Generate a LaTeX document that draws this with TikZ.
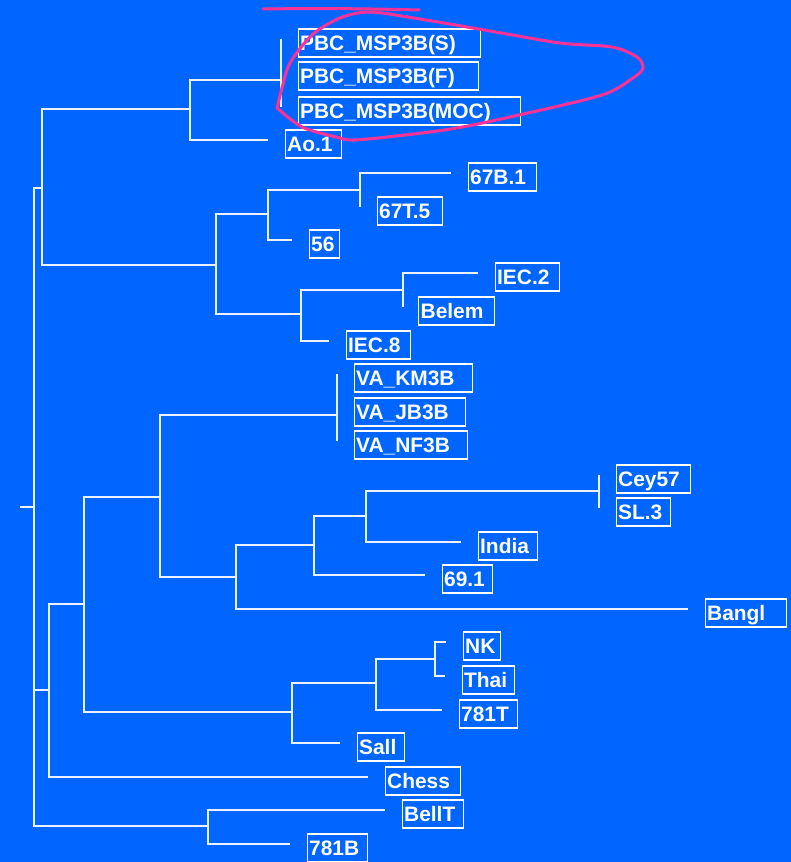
\documentclass[tikz,border=0pt]{standalone}
\usepackage{fontspec}
\setmainfont{Liberation Sans}
\usetikzlibrary{positioning}
\definecolor{treebg}{RGB}{0,102,255}
\definecolor{markpink}{RGB}{250,50,150}

\begin{document}
\begin{tikzpicture}[x=1bp,y=-1bp,
  branch/.style={draw=white!92!treebg,line width=1.2bp},
  strain/.style={draw=white,line width=1.3bp,text=white,
    font=\bfseries\fontsize{21}{24}\selectfont,
    inner xsep=2bp,inner ysep=1bp,text height=20bp,text depth=6bp,
    align=left,text width=#1}]
\fill[treebg] (0,0) rectangle (791,862);
\useasboundingbox (0,0) rectangle (791,862);

% join points and leaf ends
\coordinate (stub) at (20,507);
\coordinate (root) at (34,507);
\coordinate (a) at (42,188);
\coordinate (a1) at (190,109);
\coordinate (pbc) at (281,80);
\coordinate (lS) at (281,39);
\coordinate (lF) at (281,72);
\coordinate (lMOC) at (281,107);
\coordinate (lAo) at (268,140);
\coordinate (a2) at (216,265);
\coordinate (a21) at (268,214);
\coordinate (a211) at (360,190);
\coordinate (l67B) at (451,173);
\coordinate (l67T) at (360,207);
\coordinate (l56) at (292,240);
\coordinate (a22) at (301,314);
\coordinate (iec) at (403,290);
\coordinate (lIECb) at (478,273);
\coordinate (lBelem) at (403,307);
\coordinate (lIECh) at (329,341);
\coordinate (b) at (49,690);
\coordinate (b1) at (84,604);
\coordinate (b11) at (160,497);
\coordinate (va) at (337,415);
\coordinate (lKM) at (337,374);
\coordinate (lJB) at (337,408);
\coordinate (lNF) at (337,441);
\coordinate (b112) at (236,577);
\coordinate (b1121) at (314,545);
\coordinate (b11211) at (366,516);
\coordinate (cey) at (599,491);
\coordinate (lCey) at (599,475);
\coordinate (lSL) at (599,508);
\coordinate (lIndia) at (461,542);
\coordinate (lSixNine) at (425,575);
\coordinate (lBangl) at (688,609);
\coordinate (b12) at (292,712);
\coordinate (b121) at (376,683);
\coordinate (nk) at (435,659);
\coordinate (lNK) at (446,642);
\coordinate (lThai) at (445,676);
\coordinate (lSevT) at (442,710);
\coordinate (lSall) at (340,743);
\coordinate (lChess) at (368,777);
\coordinate (c) at (208,826);
\coordinate (lBellT) at (385,810);
\coordinate (lSevB) at (290,844);

% branches
\draw[branch] (stub) -- (root);
\draw[branch] (root) |- (a) (root) |- (b) (root) |- (c);
\draw[branch] (a) |- (a1) (a) |- (a2);
\draw[branch] (a1) |- (pbc) (a1) |- (lAo);
\draw[branch] (pbc) |- (lS) (pbc) |- (lF) (pbc) |- (lMOC);
\draw[branch] (a2) |- (a21) (a2) |- (a22);
\draw[branch] (a21) |- (a211) (a21) |- (l56);
\draw[branch] (a211) |- (l67B) (a211) |- (l67T);
\draw[branch] (a22) |- (iec) (a22) |- (lIECh);
\draw[branch] (iec) |- (lIECb) (iec) |- (lBelem);
\draw[branch] (b) |- (b1) (b) |- (lChess);
\draw[branch] (b1) |- (b11) (b1) |- (b12);
\draw[branch] (b11) |- (va) (b11) |- (b112);
\draw[branch] (va) |- (lKM) (va) |- (lJB) (va) |- (lNF);
\draw[branch] (b112) |- (b1121) (b112) |- (lBangl);
\draw[branch] (b1121) |- (b11211) (b1121) |- (lSixNine);
\draw[branch] (b11211) |- (cey) (b11211) |- (lIndia);
\draw[branch] (cey) |- (lCey) (cey) |- (lSL);
\draw[branch] (b12) |- (b121) (b12) |- (lSall);
\draw[branch] (b121) |- (nk) (b121) |- (lSevT);
\draw[branch] (nk) |- (lNK) (nk) |- (lThai);
\draw[branch] (c) |- (lBellT) (c) |- (lSevB);

% strain labels
\node[strain=178bp,right=16.5bp of lS,yshift=-4bp] (tS) {PBC\_MSP3B(S)};
\node[strain=176bp,right=16.5bp of lF,yshift=-4bp] (tF) {PBC\_MSP3B(F)};
\node[strain=218bp,right=16.5bp of lMOC,yshift=-4bp] (tMOC) {PBC\_MSP3B(MOC)};
\node[strain=52bp,right=16.5bp of lAo,yshift=-4bp] (tAo) {Ao.1};
\node[strain=64bp,right=16.5bp of l67B,yshift=-4bp] (t67B) {67B.1};
\node[strain=61bp,right=16.5bp of l67T,yshift=-4bp] (t67T) {67T.5};
\node[strain=26bp,right=16.5bp of l56,yshift=-4bp] (t56) {56};
\node[strain=60bp,right=16.5bp of lIECb,yshift=-4bp] (tIECb) {IEC.2};
\node[strain=72bp,right=15bp of lBelem,yshift=-4bp] (tBelem) {Belem};
\node[strain=60bp,right=16.5bp of lIECh,yshift=-4bp] (tIECh) {IEC.8};
\node[strain=114bp,right=16.5bp of lKM,yshift=-4bp] (tKM) {VA\_KM3B};
\node[strain=107bp,right=16.5bp of lJB,yshift=-4bp] (tJB) {VA\_JB3B};
\node[strain=109bp,right=16.5bp of lNF,yshift=-4bp] (tNF) {VA\_NF3B};
\node[strain=70bp,right=16.5bp of lCey,yshift=-4bp] (tCey) {Cey57};
\node[strain=50bp,right=16.5bp of lSL,yshift=-4bp] (tSL) {SL.3};
\node[strain=55bp,right=16.5bp of lIndia,yshift=-4bp] (tIndia) {India};
\node[strain=46bp,right=16.5bp of lSixNine,yshift=-4bp] (tSixNine) {69.1};
\node[strain=77bp,right=16.5bp of lBangl,yshift=-4bp] (tBangl) {Bangl};
\node[strain=33bp,right=16.5bp of lNK,yshift=-4bp] (tNK) {NK};
\node[strain=48bp,right=16.5bp of lThai,yshift=-4bp] (tThai) {Thai};
\node[strain=54bp,right=16.5bp of lSevT,yshift=-4bp] (tSevT) {781T};
\node[strain=43bp,right=16.5bp of lSall,yshift=-4bp] (tSall) {Sall};
\node[strain=71bp,right=16.5bp of lChess,yshift=-4bp] (tChess) {Chess};
\node[strain=57bp,right=16.5bp of lBellT,yshift=-4bp] (tBellT) {BellT};
\node[strain=56bp,right=16.5bp of lSevB,yshift=-4bp] (tSevB) {781B};

% hand-drawn mark round the PBC group
\draw[markpink,line width=3bp,line cap=round] (263,9) .. controls (330,8) and (380,9) .. (419,10);
\draw[markpink,line width=3bp,line cap=round,line join=round] plot[smooth] coordinates {
  (277,108) (282,88) (290,63) (312,35) (340,18) (370,12) (420,19) (490,31)
  (560,43) (612,47) (637,57) (643,68) (633,78) (602,95) (519,115) (457,128)
  (405,135) (354,140) (336,137) (302,127) (277,108)};
\end{tikzpicture}
\end{document}
